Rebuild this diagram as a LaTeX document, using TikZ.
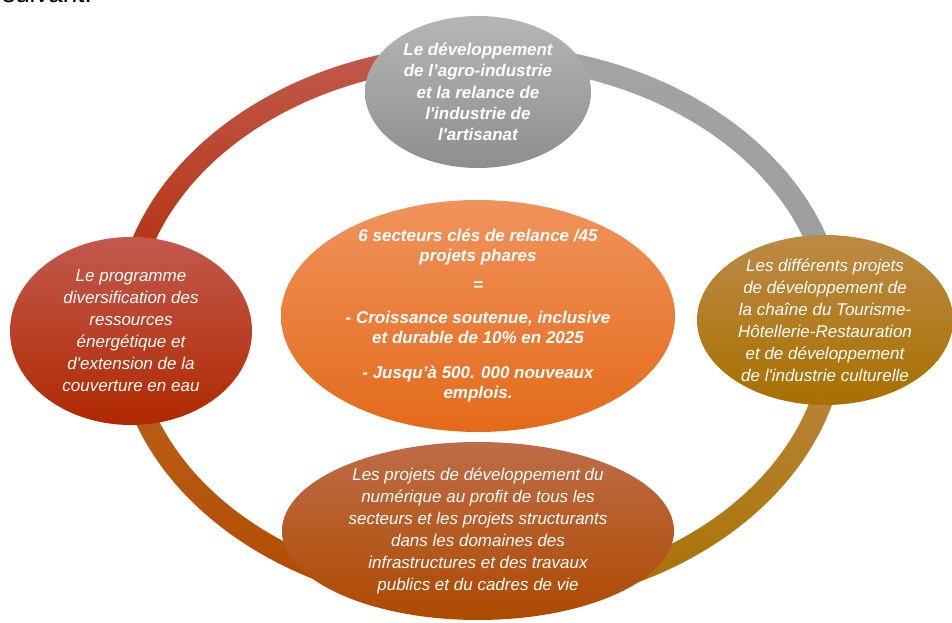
\documentclass[tikz,border=0pt]{standalone}
\usepackage{fontspec}
\setmainfont{Liberation Sans}

% colours of the ring segments and of the sectors
\definecolor{agroTop}{HTML}{B6B6B6}
\definecolor{agroBot}{HTML}{8E8E8E}
\definecolor{energieTop}{HTML}{C25A4E}
\definecolor{energieMid}{HTML}{BE3512}
\definecolor{energieBot}{HTML}{B02800}
\definecolor{tourismeTop}{HTML}{BC8A46}
\definecolor{tourismeMid}{HTML}{B07A1C}
\definecolor{tourismeBot}{HTML}{A87000}
\definecolor{numeriqueTop}{HTML}{BE6C48}
\definecolor{numeriqueMid}{HTML}{BA5408}
\definecolor{numeriqueBot}{HTML}{AE4A00}
\definecolor{secteursTop}{HTML}{F0935C}
\definecolor{secteursMid}{HTML}{F07F30}
\definecolor{secteursBot}{HTML}{E46A1A}

\tikzset{
  sectortext/.style={text=white, align=center, inner sep=0pt,
    font=\itshape\fontsize{12.75}{16.5}\selectfont},
  sectorbold/.style={sectortext,
    font=\bfseries\itshape\fontsize{12.75}{16}\selectfont},
}

% one quarter of the ring: start angle, end angle, top colour, bottom colour
\newcommand{\ringArc}[4]{
    \shade[shift={(480,296)}, top color=#3, bottom color=#4]
      (#1:366 and 283) arc [start angle=#1, end angle=#2, x radius=366, y radius=283]
      -- (#2:344 and 261) arc [start angle=#2, end angle=#1, x radius=344, y radius=261]
      -- cycle;
}

% one sector: name, x, y, x radius, y radius, shading, text style, text
\newcommand{\drawSector}[8]{
    \shade[#6] (#2,#3) ellipse [x radius=#4, y radius=#5];
    \node[#7] (#1) at (#2,#3) {#8};
}

\begin{document}
\begin{tikzpicture}[x=0.75pt, y=0.75pt]
\useasboundingbox (0,0) rectangle (952,623);
\clip (0,0) rectangle (952,623);

% end of the sentence above the figure
\node[anchor=base west, inner sep=0pt, font=\fontsize{19.5}{20}\selectfont] (suivant) at (2,620) {suivant.};

% the ring
\ringArc{90}{180}{energieTop}{energieBot}
\ringArc{0}{90}{agroTop!90!black}{agroTop!85!black}
\ringArc{-90}{0}{tourismeTop}{tourismeBot}
\ringArc{180}{270}{numeriqueMid!90!white}{numeriqueBot}

% the five sectors
\drawSector{agro}{478}{531}{113}{76}{top color=agroTop, bottom color=agroBot}{sectorbold}
  {Le développement\\ de l’agro-industrie\\ et la relance de\\ l\textquotesingle industrie de\\ l\textquotesingle artisanat}
\drawSector{energie}{131}{292}{121}{94}{top color=energieTop, middle color=energieMid, bottom color=energieBot}{sectortext}
  {Le programme\\ diversification des\\ ressources\\ énergétique et\\ d\textquotesingle extension de la\\ couverture en eau}
\drawSector{tourisme}{825}{303}{128}{85}{top color=tourismeTop, middle color=tourismeMid, bottom color=tourismeBot}{sectortext}
  {Les différents projets\\ de développement de\\ la chaîne du Tourisme-\\ Hôtellerie-Restauration\\ et de développement\\ de l\textquotesingle industrie culturelle}
\drawSector{numerique}{478}{92}{196}{89}{top color=numeriqueTop, middle color=numeriqueMid, bottom color=numeriqueBot}{sectortext}
  {Les projets de développement du\\ numérique au profit de tous les\\ secteurs et les projets structurants\\ dans les domaines des\\ infrastructures et des travaux\\ publics et du cadres de vie}
\drawSector{secteurs}{478}{307}{197}{116}{top color=secteursTop, middle color=secteursMid, bottom color=secteursBot}
  {sectorbold, font=\bfseries\itshape\fontsize{12.75}{15}\selectfont}
  {6 secteurs clés de relance /45\\ projets phares\\[6.75pt] =\\[9.75pt] - Croissance soutenue, inclusive\\ et durable de 10\% en 2025\\[11.25pt] - Jusqu’à 500. 000 nouveaux\\ emplois.}

\end{tikzpicture}
\end{document}
